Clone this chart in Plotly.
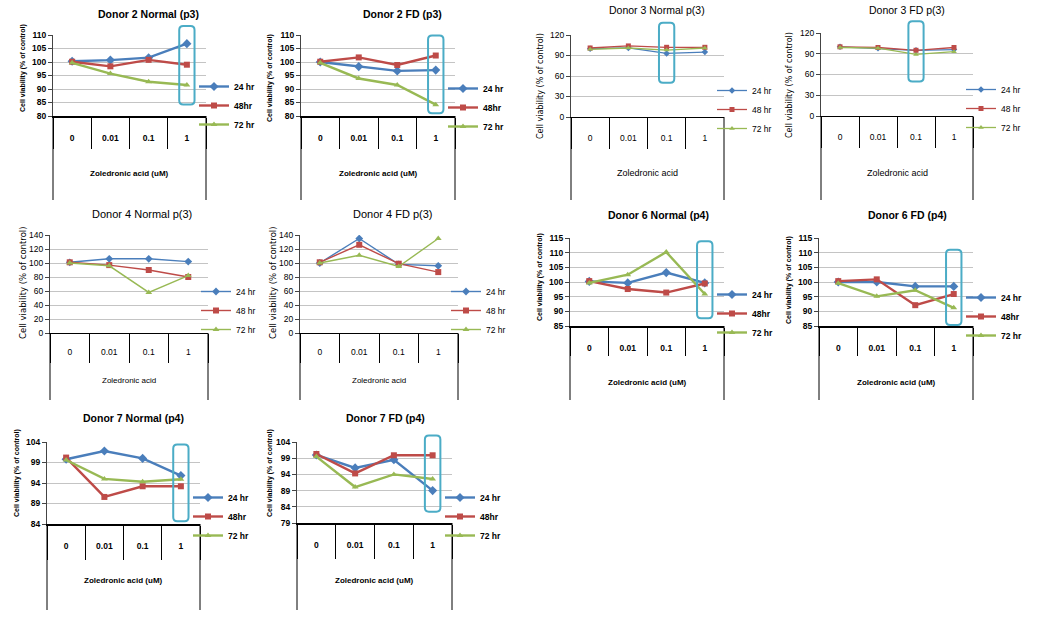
import plotly.graph_objects as go

W, H = 1045, 629

# ---------------- data ----------------
doses = ["0", "0.01", "0.1", "1"]
names_a = ["24 hr", "48hr", "72 hr"]
names_b = ["24 hr", "48 hr", "72 hr"]
titles = ["Donor 2 Normal (p3)", "Donor 2 FD (p3)", "Donor 3 Normal p(3)", "Donor 3 FD p(3)",
          "Donor 4 Normal p(3)", "Donor 4 FD p(3)", "Donor 6 Normal (p4)", "Donor 6 FD (p4)",
          "Donor 7 Normal (p4)", "Donor 7 FD (p4)"]
x_titles = ["Zoledronic acid (uM)", "Zoledronic acid (uM)", "Zoledronic acid", "Zoledronic acid",
            "Zoledronic acid", "Zoledronic acid", "Zoledronic acid (uM)", "Zoledronic acid (uM)",
            "Zoledronic acid (uM)", "Zoledronic acid (uM)"]
y_title = "Cell viability (% of control)"

d2n_24 = [100.3, 100.7, 101.6, 106.8]
d2n_48 = [100.1, 98.4, 100.8, 99.0]
d2n_72 = [99.7, 95.7, 92.7, 91.5]

d2f_24 = [100.0, 98.3, 96.7, 97.0]
d2f_48 = [100.1, 101.7, 98.9, 102.4]
d2f_72 = [99.7, 93.9, 91.5, 84.2]

d3n_24 = [100, 101, 93, 95]
d3n_48 = [101, 104, 102, 102]
d3n_72 = [99, 101, 98, 101]

d3f_24 = [100, 98, 95, 96]
d3f_48 = [100, 99, 95, 99]
d3f_72 = [99, 98, 89, 93]

d4n_24 = [101, 106, 106, 102]
d4n_48 = [101, 97, 90, 80]
d4n_72 = [100, 96, 58, 82]

d4f_24 = [100, 135, 98, 96]
d4f_48 = [101, 126, 99, 87]
d4f_72 = [100, 111, 95, 135]

d6n_24 = [100.2, 99.7, 103.2, 99.7]
d6n_48 = [100.3, 97.6, 96.4, 99.5]
d6n_72 = [99.7, 102.5, 110.2, 95.9]

d6f_24 = [100.0, 100.0, 98.5, 98.5]
d6f_48 = [100.3, 100.9, 92.1, 95.9]
d6f_72 = [99.6, 95.1, 97.2, 91.2]

d7n_24 = [99.8, 101.8, 100.0, 95.8]
d7n_48 = [100.2, 90.6, 93.2, 93.2]
d7n_72 = [99.6, 95.0, 94.3, 94.9]

d7f_24 = [100.0, 96.0, 98.5, 89.0]
d7f_48 = [100.3, 94.3, 99.9, 99.9]
d7f_72 = [99.5, 90.1, 94.0, 92.6]

series = [
    (d2n_24, d2n_48, d2n_72), (d2f_24, d2f_48, d2f_72),
    (d3n_24, d3n_48, d3n_72), (d3f_24, d3f_48, d3f_72),
    (d4n_24, d4n_48, d4n_72), (d4f_24, d4f_48, d4f_72),
    (d6n_24, d6n_48, d6n_72), (d6f_24, d6f_48, d6f_72),
    (d7n_24, d7n_48, d7n_72), (d7f_24, d7f_48, d7f_72),
]
# y-axis scales: (min, max, step)
y_scales = [(80, 110, 5), (80, 110, 5), (0, 120, 30), (0, 120, 30), (0, 140, 20), (0, 140, 20),
            (85, 115, 5), (85, 115, 5), (84, 104, 5), (79, 104, 5)]
# highlighted dose (index) and the value span of the highlight box
highlights = [(3, 84.3, 113.3), (3, 81.0, 109.8), (2, 50, 138), (2, 50, 137), None, None,
              (3, 87.6, 113.9), (3, 85.3, 111.0), (3, 84.7, 103.4), (3, 82.5, 106.0)]

# ---------------- layout (pixels) ----------------
# left, right, top, axis-bottom, line-bottom, title x, title y, xtitle y, ticklen,
# legend first-item y, label offset below axis, y-title x, y-title y
boxes = [
    (53, 206, 35, 116, 200, 148, 14, 173, 31, 86, 21, 23, 68),
    (301, 455, 35, 116, 200, 402, 14, 173, 31, 88, 21, 270, 78),
    (571, 724, 35, 117, 200, 657, 10, 173, 31, 90, 21, 540, 86),
    (821, 973, 33, 116, 200, 907, 10, 173, 31, 89, 21, 790, 85),
    (50, 208, 235, 333, 400, 142, 214, 380, 29, 291, 19, 23, 283),
    (300, 458, 235, 333, 400, 392, 214, 380, 29, 291, 19, 273, 283),
    (570, 724, 238, 326, 400, 658, 215, 383, 28, 294, 21, 540, 277),
    (819, 973, 238, 326, 400, 907, 215, 383, 28, 297, 21, 789, 280),
    (47, 200, 442, 524, 610, 133, 418, 580, 34, 497, 21, 17, 473),
    (297, 452, 442, 523, 610, 385, 418, 580, 34, 497, 21, 270, 473),
]
styles = ["bold", "bold", "plain", "plain", "narrow", "narrow", "bold", "bold", "bold", "bold"]

SANS = "Liberation Sans Narrow, Arial Narrow, Liberation Sans, Arial"
STY = {
    "bold": dict(fam=SANS, w="bold", title=10.5, tick=8.5, cat=8.5, ytitle=7, xtitle=8, leg=8.5,
                 lw=2.4, ms=(7, 6, 6), axw=2, names=names_a, yfam=SANS),
    "plain": dict(fam="Liberation Sans, Arial", w="normal", title=10.5, tick=8.5, cat=8.5, ytitle=8,
                  xtitle=9, leg=8.5, lw=1.3, ms=(5, 5, 5), axw=1, names=names_b, yfam="DejaVu Sans"),
    "narrow": dict(fam=SANS, w="normal", title=11, tick=8.5, cat=8.5, ytitle=8.5, xtitle=8,
                   leg=8.5, lw=1.4, ms=(6, 6, 6), axw=1, names=names_b, yfam="DejaVu Sans"),
}
colors = ["#4A7EBB", "#BE4B48", "#98B954"]
symbols = ["diamond", "square", "triangle-up"]
box_color = "#4BACC6"

fig = go.Figure()
layout = dict(width=W, height=H, margin=dict(l=0, r=0, t=0, b=0),
              paper_bgcolor="white", plot_bgcolor="white", showlegend=True)
shapes, annotations = [], []

for i in range(10):
    L, R, T, B, BB, tx, ty, xty, tl, ly, lab_off, ytx, yty = boxes[i]
    st = STY[styles[i]]
    n = i + 1
    xa = "xaxis" if n == 1 else f"xaxis{n}"
    ya = "yaxis" if n == 1 else f"yaxis{n}"
    xr = "x" if n == 1 else f"x{n}"
    yr = "y" if n == 1 else f"y{n}"
    lg = "legend" if n == 1 else f"legend{n}"
    lo, hi, step = y_scales[i]
    pw, ph = R - L, B - T

    for k in range(3):
        fig.add_trace(go.Scatter(
            x=doses, y=series[i][k], name=st["names"][k], mode="lines+markers",
            xaxis=xr, yaxis=yr, legend=lg,
            line=dict(color=colors[k], width=st["lw"]),
            marker=dict(symbol=symbols[k], size=st["ms"][k], color=colors[k]),
        ))

    tickfont = dict(family=st["fam"], size=st["tick"], color="#000", weight=st["w"])
    catfont = dict(family=st["fam"], size=st["cat"], color="#000", weight=st["w"])
    layout[xa] = dict(
        domain=[L / W, R / W], anchor=yr, type="category", categoryorder="array",
        categoryarray=doses, range=[-0.5, 3.5], showgrid=False, zeroline=False,
        showline=True, linecolor="#000", linewidth=st["axw"],
        ticks="outside", tickson="boundaries", ticklen=tl, tickcolor="#000", tickwidth=1,
        tickfont=catfont, ticklabelstandoff=lab_off - 8, automargin=False, fixedrange=True,
    )
    layout[ya] = dict(
        domain=[1 - B / H, 1 - T / H], anchor=xr, range=[lo, hi], tick0=lo, dtick=step,
        showgrid=True, gridcolor="#c4c4c4", gridwidth=1, zeroline=False,
        showline=True, linecolor="#444", linewidth=1, ticks="outside", ticklen=4,
        tickcolor="#444", tickfont=tickfont, automargin=False, fixedrange=True,
    )
    # axis titles
    annotations.append(dict(text=y_title, xref="paper", yref="paper", x=ytx / W, y=1 - yty / H,
                            xanchor="center", yanchor="middle", textangle=-90, showarrow=False,
                            font=dict(family=st["yfam"], size=st["ytitle"], color="#000", weight=st["w"])))
    annotations.append(dict(text=x_titles[i], xref=f"{xr} domain", yref="paper", x=0.5,
                            y=1 - xty / H, xanchor="center", yanchor="middle", showarrow=False,
                            font=dict(family=st["fam"], size=st["xtitle"], color="#000", weight=st["w"])))
    # outer dividers of the category table (extend below the axis)
    ext = -(BB - B) / ph
    for xd in (0, 1):
        shapes.append(dict(type="line", xref=f"{xr} domain", yref=f"{yr} domain",
                           x0=xd, x1=xd, y0=0, y1=ext, line=dict(color="#000", width=1)))
    # chart titles
    annotations.append(dict(text=titles[i], xref="paper", yref="paper", x=tx / W, y=1 - ty / H,
                            xanchor="center", yanchor="middle", showarrow=False,
                            font=dict(family=st["fam"], size=st["title"], color="#000", weight=st["w"])))
    # highlight box (rounded rectangle)
    if highlights[i] is not None:
        ci, vlo, vhi = highlights[i]
        x0 = (ci + 0.5) / 4 - 0.05
        x1 = (ci + 0.5) / 4 + 0.05
        y0 = (vlo - lo) / (hi - lo)
        y1 = (vhi - lo) / (hi - lo)
        rx, ry = 4 / pw, 4 / ph
        path = (f"M{x0+rx},{y0} L{x1-rx},{y0} Q{x1},{y0} {x1},{y0+ry} "
                f"L{x1},{y1-ry} Q{x1},{y1} {x1-rx},{y1} L{x0+rx},{y1} Q{x0},{y1} {x0},{y1-ry} "
                f"L{x0},{y0+ry} Q{x0},{y0} {x0+rx},{y0} Z")
        shapes.append(dict(type="path", path=path, xref=f"{xr} domain", yref=f"{yr} domain",
                           line=dict(color=box_color, width=2), layer="above"))
    # legend
    layout[lg] = dict(x=(R - 12) / W, y=1 - (ly - 14) / H, xanchor="left", yanchor="top",
                      bgcolor="rgba(0,0,0,0)", borderwidth=0, tracegroupgap=0,
                      font=dict(family=st["fam"], size=st["leg"], color="#000", weight=st["w"]))

layout["shapes"] = shapes
layout["annotations"] = annotations
fig.update_layout(**layout)
fig.write_html("out.html")
